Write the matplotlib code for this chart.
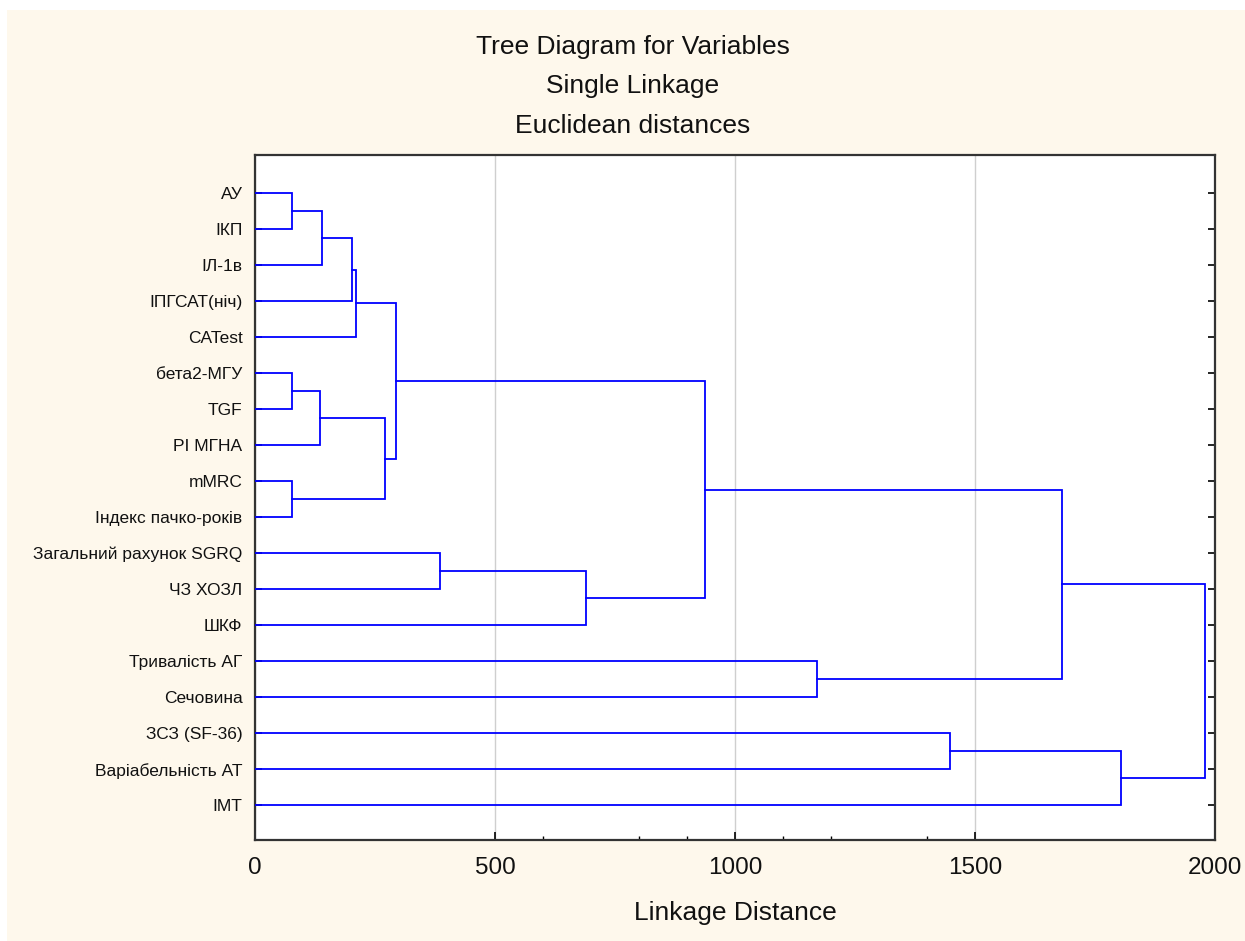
import matplotlib
matplotlib.use('Agg')
import matplotlib.pyplot as plt
from matplotlib.patches import Rectangle

plt.rcParams['font.family'] = ['Liberation Sans', 'DejaVu Sans']

# Змінні (листки дерева, зверху вниз)
variables = [
    'АУ', 'ІКП', 'ІЛ-1в', 'ІПГСАТ(ніч)', 'CATest',
    'бета2-МГУ', 'TGF', 'РІ МГНА', 'mMRC', 'Індекс пачко-років',
    'Загальний рахунок SGRQ', 'ЧЗ ХОЗЛ', 'ШКФ', 'Тривалість АГ',
    'Сечовина', 'ЗСЗ (SF-36)', 'Варіабельність АТ', 'ІМТ',
]

# Об'єднання: (вузол 1, вузол 2, відстань); нові вузли нумеруються з 18
merge_a = [0, 18, 19, 20, 5, 22, 8, 23, 21, 10, 27, 26, 13, 29, 15, 32, 31]
merge_b = [1, 2, 3, 4, 6, 7, 9, 24, 25, 11, 12, 28, 14, 30, 16, 17, 33]
merge_dist = [77, 140, 202, 210, 77, 135, 77, 270, 294, 385, 690, 937,
              1171, 1681, 1448, 1804, 1979]

bg = '#fef8ec'
txt = '#111111'

fig = plt.figure(figsize=(12.45, 9.41), dpi=100, facecolor=bg)
# біла рамка зверху та зліва
fig.patches.append(Rectangle((0, 1 - 10 / 941), 1, 10 / 941, transform=fig.transFigure,
                             facecolor='white', edgecolor='none', zorder=-1))
fig.patches.append(Rectangle((0, 0), 7 / 1245, 1, transform=fig.transFigure,
                             facecolor='white', edgecolor='none', zorder=-1))

ax = fig.add_axes([255 / 1245, 1 - 840 / 941, 960 / 1245, 685 / 941])
ax.set_facecolor('white')

# положення вузлів
n = len(variables)
ypos = {i: float(i) for i in range(n)}
xpos = {i: 0.0 for i in range(n)}
for k, (a, b, d) in enumerate(zip(merge_a, merge_b, merge_dist)):
    ax.plot([xpos[a], d, d, xpos[b]], [ypos[a], ypos[a], ypos[b], ypos[b]],
            color='#0000ff', lw=1.3, solid_joinstyle='miter', zorder=3)
    node = n + k
    xpos[node] = d
    ypos[node] = (ypos[a] + ypos[b]) / 2

ax.set_xlim(0, 2000)
ax.set_ylim(17.97, -1.06)
ax.set_yticks(range(n))
ax.set_yticklabels(variables, fontsize=12.5, color=txt)
ax.set_xticks([0, 500, 1000, 1500, 2000])
ax.set_xticklabels(['0', '500', '1000', '1500', '2000'], fontsize=17.5, color=txt)
ax.set_xticks([600, 800, 900, 1100, 1200, 1400], minor=True)
ax.grid(True, axis='x', color='#cfcfcf', lw=1, zorder=0)

ax.tick_params(axis='y', direction='in', length=5, width=1.2, right=True, pad=9)
ax.tick_params(axis='x', which='major', direction='in', length=6, width=1.2, pad=12)
ax.tick_params(axis='x', which='minor', direction='in', length=3, width=1)
for s in ax.spines.values():
    s.set_linewidth(1.6)
    s.set_color('#333333')

ax.set_xlabel('Linkage Distance', fontsize=19, color=txt, labelpad=16)

titles = ['Tree Diagram for Variables', 'Single Linkage', 'Euclidean distances']
for i, t in enumerate(titles):
    fig.text(633 / 1245, 1 - (47 + 39.5 * i) / 941, t, ha='center', va='center',
             fontsize=19, color=txt)

fig.savefig('out.png', dpi=100, facecolor=bg)
